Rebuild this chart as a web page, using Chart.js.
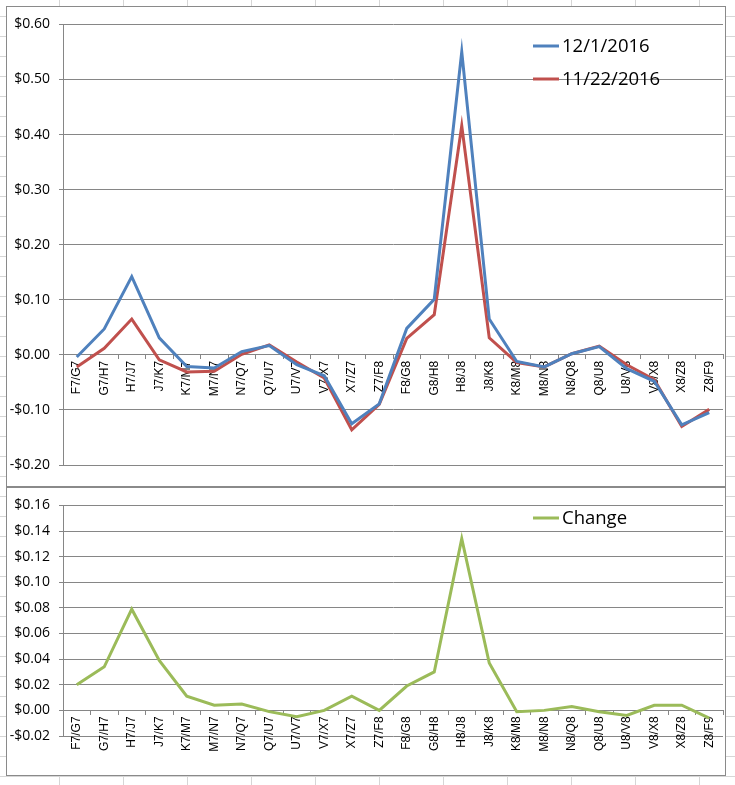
<!DOCTYPE html>
<html>
<head>
<meta charset="utf-8">
<script src="https://cdn.jsdelivr.net/npm/chart.js@4/dist/chart.umd.min.js"></script>
<style>
  html, body { margin: 0; padding: 0; }
  body {
    width: 735px; height: 785px; overflow: hidden; position: relative;
    background-color: #fff;
    background-image:
      repeating-linear-gradient(to right, transparent 0, transparent 59px, #d6d6d6 59px, #d6d6d6 60px, transparent 60px, transparent 64px),
      repeating-linear-gradient(to bottom, transparent 0, transparent 16px, #d6d6d6 16px, #d6d6d6 17px, transparent 17px, transparent 20px);
    background-size: 64px 100%, 100% 20px;
    background-position: 0 0, 0 0;
  }
  .box { position: absolute; left: 6px; width: 718px; border: 1px solid #8a8a8a; background: #fff; }
  #topBox { top: 6px; height: 479px; border-bottom-width: 2px; }
  #botBox { top: 487px; height: 287px; }
  canvas { display: block; }
</style>
</head>
<body>
<div class="box" id="topBox"><canvas id="priceChart" width="718" height="479"></canvas></div>
<div class="box" id="botBox"><canvas id="changeChart" width="718" height="287"></canvas></div>
<script>
// spread labels
var spreads = ['F7/G7', 'G7/H7', 'H7/J7', 'J7/K7', 'K7/M7', 'M7/N7', 'N7/Q7', 'Q7/U7',
               'U7/V7', 'V7/X7', 'X7/Z7', 'Z7/F8', 'F8/G8', 'G8/H8', 'H8/J8', 'J8/K8',
               'K8/M8', 'M8/N8', 'N8/Q8', 'Q8/U8', 'U8/V8', 'V8/X8', 'X8/Z8', 'Z8/F9'];

// spread values
var dec1 = [-0.004, 0.047, 0.142, 0.031, -0.021, -0.024, 0.006, 0.017,
            -0.018, -0.038, -0.125, -0.089, 0.048, 0.101, 0.550, 0.065,
            -0.012, -0.022, 0.002, 0.015, -0.025, -0.048, -0.127, -0.105];
var nov22 = [-0.022, 0.012, 0.065, -0.009, -0.031, -0.030, 0.001, 0.018,
             -0.013, -0.042, -0.136, -0.090, 0.030, 0.073, 0.416, 0.031,
             -0.014, -0.022, 0.002, 0.016, -0.018, -0.045, -0.130, -0.099];
var change = [0.020, 0.034, 0.079, 0.039, 0.011, 0.004, 0.005, -0.001,
              -0.005, 0.000, 0.011, 0.000, 0.019, 0.030, 0.134, 0.037,
              -0.001, 0.000, 0.003, -0.001, -0.004, 0.004, 0.004, -0.006];

var gray = '#868686';

function dollars(v) {
    var r = Math.round(v * 100) / 100;
    var s = '$' + Math.abs(r).toFixed(2);
    return r < 0 ? '-' + s : s;
}

// legend drawn inside the plot, like the Excel one
var insideLegend = {
    id: 'insideLegend',
    afterDraw: function(chart, args, opts) {
        var ctx = chart.ctx;
        ctx.save();
        ctx.font = '18.5px "Open Sans"';
        ctx.textBaseline = 'middle';
        chart.data.datasets.forEach(function(ds, i) {
            var y = opts.y + i * opts.gap;
            ctx.strokeStyle = ds.borderColor;
            ctx.lineWidth = 3;
            ctx.beginPath();
            ctx.moveTo(opts.x, y);
            ctx.lineTo(opts.x + 26, y);
            ctx.stroke();
            ctx.fillStyle = '#000';
            ctx.fillText(ds.label, opts.x + 29, y + 1);
        });
        ctx.restore();
    }
};

function makeOptions(min, max, step, pad, legendY) {
    return {
        responsive: false,
        animation: false,
        layout: { padding: pad },
        plugins: {
            legend: { display: false },
            tooltip: { enabled: false },
            insideLegend: { x: 526, y: legendY, gap: 33 }
        },
        elements: { point: { radius: 0 }, line: { tension: 0, borderWidth: 3 } },
        scales: {
            x: {
                type: 'category',
                position: { y: 0 },
                offset: true,
                grid: { drawOnChartArea: false, drawTicks: true, tickLength: 4, color: gray, offset: true },
                border: { display: true, color: gray },
                ticks: {
                    autoSkip: false, minRotation: 90, maxRotation: 90, padding: 2,
                    color: '#000', font: { family: 'Liberation Sans', size: 12 }
                },
                afterFit: function(s) { s.paddingLeft = 0; s.paddingRight = 0; }
            },
            y: {
                min: min, max: max,
                grid: { color: gray, tickLength: 4 },
                border: { display: true, color: gray },
                ticks: {
                    stepSize: step, padding: 9, color: '#000',
                    font: { family: 'Open Sans', size: 14 },
                    callback: function(v) { return dollars(v); }
                },
                afterFit: function(s) { s.width = 56; }
            }
        }
    };
}

new Chart(document.getElementById('priceChart').getContext('2d'), {
    type: 'line',
    data: {
        labels: spreads,
        datasets: [
            { label: '12/1/2016', data: dec1, borderColor: '#4F81BD', backgroundColor: '#4F81BD' },
            { label: '11/22/2016', data: nov22, borderColor: '#C0504D', backgroundColor: '#C0504D' }
        ]
    },
    options: makeOptions(-0.2, 0.6, 0.1, { top: 17, bottom: 21, left: 0, right: 2 }, 39),
    plugins: [insideLegend]
});

new Chart(document.getElementById('changeChart').getContext('2d'), {
    type: 'line',
    data: {
        labels: spreads,
        datasets: [
            { label: 'Change', data: change, borderColor: '#9BBB59', backgroundColor: '#9BBB59' }
        ]
    },
    options: makeOptions(-0.02, 0.16, 0.02, { top: 10, bottom: 39, left: 0, right: 2 }, 30),
    plugins: [insideLegend]
});
</script>
</body>
</html>
